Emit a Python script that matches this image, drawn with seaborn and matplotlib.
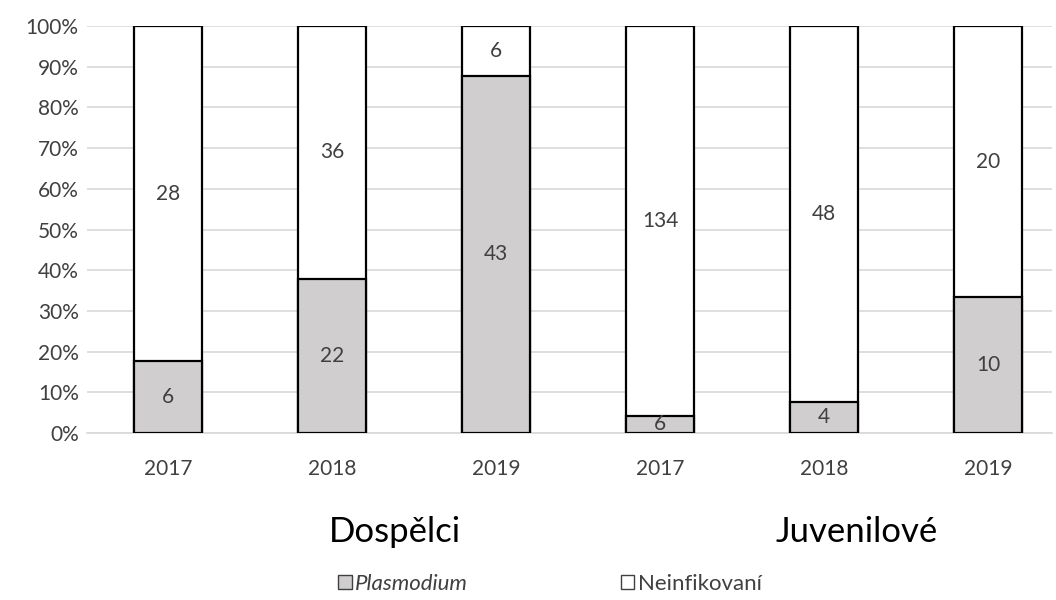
import matplotlib
matplotlib.use("Agg")
import matplotlib.pyplot as plt
from matplotlib.patches import Patch
from matplotlib.ticker import PercentFormatter
import seaborn as sns
import pandas as pd

# Counts of infected / uninfected birds per year and age group
groups = ["Dospělci", "Dospělci", "Dospělci", "Juvenilové", "Juvenilové", "Juvenilové"]
years = ["2017", "2018", "2019", "2017", "2018", "2019"]
infected = [6, 22, 43, 6, 4, 10]
uninfected = [28, 36, 6, 134, 48, 20]

keys = [f"{g}-{y}" for g, y in zip(groups, years)]
totals = [a + b for a, b in zip(infected, uninfected)]
df = pd.DataFrame({
    "key": keys,
    "year": years,
    "inf_share": [a / t * 100 for a, t in zip(infected, totals)],
    "full": [100.0] * len(keys),
})

sns.set_theme(style="white")
plt.rcParams["font.family"] = ["Lato", "DejaVu Sans"]

GRAY = "#D0CECE"
TEXT = "#404040"

fig = plt.figure(figsize=(10.56, 6.0), dpi=100)
W, H = 1056, 600
left_px, right_px, top_px, bot_px = 87, 1052, 26, 433
ax = fig.add_axes([left_px / W, 1 - bot_px / H, (right_px - left_px) / W, (bot_px - top_px) / H])

bw = 0.41
sns.barplot(data=df, x="key", y="full", order=keys, color="white", width=bw,
            edgecolor="black", linewidth=1.6, saturation=1, ax=ax, zorder=3)
sns.barplot(data=df, x="key", y="inf_share", order=keys, color=GRAY, width=bw,
            edgecolor="black", linewidth=1.6, saturation=1, ax=ax, zorder=4)

# value labels centred in each segment
for i, (a, b, t) in enumerate(zip(infected, uninfected, totals)):
    share = a / t * 100
    ax.text(i, share / 2, str(a), ha="center", va="center", fontsize=15, color=TEXT, zorder=5)
    ax.text(i, share + (100 - share) / 2, str(b), ha="center", va="center", fontsize=15,
            color=TEXT, zorder=5)

ax.set_ylim(0, 100)
ax.set_xlim(-0.494, 5.39)
ax.set_yticks(range(0, 101, 10))
ax.yaxis.set_major_formatter(PercentFormatter(decimals=0))
ax.set_xticks(range(len(keys)))
ax.set_xticklabels(years)
ax.set_xlabel("")
ax.set_ylabel("")
ax.grid(axis="y", color="#D9D9D9", linewidth=1.2, zorder=0)
ax.set_axisbelow(True)
for s in ["top", "right", "left"]:
    ax.spines[s].set_visible(False)
ax.spines["bottom"].set_color("#D9D9D9")
ax.spines["bottom"].set_linewidth(1.2)
ax.tick_params(axis="both", length=0, labelsize=15, labelcolor=TEXT)
ax.tick_params(axis="x", pad=19)
ax.tick_params(axis="y", pad=6)

# group captions
fig.text(395 / W, 1 - 532 / H, "Dospělci", ha="center", va="center", fontsize=25, color="black")
fig.text(857 / W, 1 - 532 / H, "Juvenilové", ha="center", va="center", fontsize=25, color="black")

handles = [Patch(facecolor=GRAY, edgecolor="#404040", linewidth=1),
           Patch(facecolor="white", edgecolor="#404040", linewidth=1)]
leg = fig.legend(handles, ["Plasmodium", "Neinfikovaní"], loc="center",
                 bbox_to_anchor=(550 / W, 1 - 584 / H), ncol=2, frameon=False,
                 fontsize=16, handlelength=0.6, handleheight=0.6, handletextpad=0.15,
                 columnspacing=6.9)
leg.get_texts()[0].set_fontstyle("italic")
for t in leg.get_texts():
    t.set_color(TEXT)

fig.savefig("out.png", dpi=100)
